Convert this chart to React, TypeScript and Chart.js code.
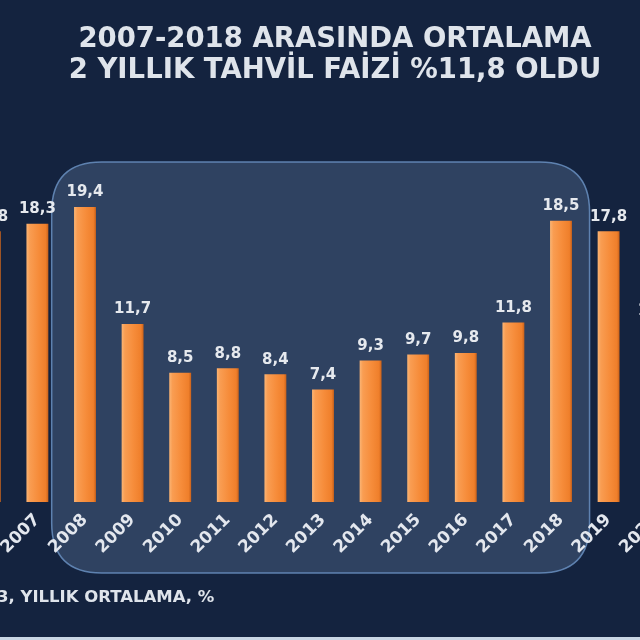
import React, { useEffect, useRef } from "react";
import { Chart, registerables } from "chart.js";

Chart.register(...registerables);

const years = ["2006", "2007", "2008", "2009", "2010", "2011", "2012", "2013", "2014", "2015", "2016", "2017", "2018", "2019", "2020"];
const rates = [17.8, 18.3, 19.4, 11.7, 8.5, 8.8, 8.4, 7.4, 9.3, 9.7, 9.8, 11.8, 18.5, 17.8, 11.6];
const titleLines = ["2007-2018 ARASINDA ORTALAMA", "2 YILLIK TAHVİL FAİZİ %11,8 OLDU"];
const footerText = "3, YILLIK ORTALAMA, %";
const highlightFrom = "2008";
const highlightTo = "2018";

const CANVAS_W = 834;
const CANVAS_H = 640;
const OFFSET_X = -94;
const FONT = "'DejaVu Sans', Verdana, sans-serif";

const fmt = (v: number) => v.toFixed(1).replace(".", ",");

function roundRect(ctx: CanvasRenderingContext2D, x: number, y: number, w: number, h: number, r: number) {
  ctx.beginPath();
  ctx.moveTo(x + r, y);
  ctx.lineTo(x + w - r, y);
  ctx.quadraticCurveTo(x + w, y, x + w, y + r);
  ctx.lineTo(x + w, y + h - r);
  ctx.quadraticCurveTo(x + w, y + h, x + w - r, y + h);
  ctx.lineTo(x + r, y + h);
  ctx.quadraticCurveTo(x, y + h, x, y + h - r);
  ctx.lineTo(x, y + r);
  ctx.quadraticCurveTo(x, y, x + r, y);
  ctx.closePath();
}

const highlightPlugin = {
  id: "highlightBox",
  beforeDraw(chart: any) {
    const ctx = chart.ctx as CanvasRenderingContext2D;
    const xs = chart.scales.x;
    const step = xs.getPixelForValue(1) - xs.getPixelForValue(0);
    const x0 = xs.getPixelForValue(years.indexOf(highlightFrom)) - 0.7 * step;
    const x1 = xs.getPixelForValue(years.indexOf(highlightTo)) + 0.6 * step;
    const y0 = 162;
    const y1 = 573;
    ctx.save();
    roundRect(ctx, x0, y0, x1 - x0, y1 - y0, 50);
    ctx.fillStyle = "rgba(80, 104, 140, 0.45)";
    ctx.fill();
    ctx.lineWidth = 1.5;
    ctx.strokeStyle = "rgba(110, 150, 200, 0.8)";
    ctx.stroke();
    ctx.restore();
  },
};

const valueLabelPlugin = {
  id: "valueLabels",
  afterDatasetsDraw(chart: any) {
    const ctx = chart.ctx as CanvasRenderingContext2D;
    const meta = chart.getDatasetMeta(0);
    ctx.save();
    ctx.font = `bold 15px ${FONT}`;
    ctx.fillStyle = "#e6e9ee";
    ctx.textAlign = "center";
    ctx.textBaseline = "bottom";
    meta.data.forEach((bar: any, i: number) => {
      ctx.fillText(fmt(rates[i]), bar.x, bar.y - 7);
    });
    ctx.restore();
  },
};

export default function App() {
  const ref = useRef<HTMLCanvasElement>(null);

  useEffect(() => {
    if (!ref.current) return;
    const chart = new Chart(ref.current, {
      type: "bar",
      data: {
        labels: years,
        datasets: [
          {
            data: rates,
            barPercentage: 0.46,
            categoryPercentage: 1,
            backgroundColor: (c: any) => {
              const ch = c.chart;
              const xs = ch.scales?.x;
              if (!xs || c.dataIndex === undefined) return "#f58a38";
              const x = xs.getPixelForValue(c.dataIndex);
              if (!Number.isFinite(x)) return "#f58a38";
              const g = ch.ctx.createLinearGradient(x - 11, 0, x + 11, 0);
              g.addColorStop(0, "#fbb575");
              g.addColorStop(0.15, "#f99d52");
              g.addColorStop(0.55, "#f68c3a");
              g.addColorStop(0.88, "#ef7f2b");
              g.addColorStop(1, "#c9611a");
              return g;
            },
            borderWidth: 0,
          },
        ],
      },
      options: {
        responsive: false,
        animation: false,
        layout: { padding: { left: 60, right: 60, top: 137, bottom: 0 } },
        plugins: {
          legend: { display: false },
          tooltip: { enabled: false },
          title: { display: false },
        },
        scales: {
          x: {
            grid: { display: false, drawTicks: false },
            border: { display: false },
            ticks: {
              color: "#e3e7ee",
              font: { family: FONT, size: 17, weight: "bold" },
              maxRotation: 45,
              minRotation: 45,
              autoSkip: false,
              padding: 8,
            },
            afterFit: (s: any) => {
              s.height = 138;
            },
          },
          y: { display: false, min: 0, max: 24 },
        },
      },
      plugins: [highlightPlugin, valueLabelPlugin],
    } as any);
    return () => chart.destroy();
  }, []);

  return (
    <div
      style={{
        position: "fixed",
        left: 0,
        top: 0,
        width: 640,
        height: 640,
        overflow: "hidden",
        background: "#14233f",
        fontFamily: FONT,
      }}
    >
      <canvas
        ref={ref}
        width={CANVAS_W}
        height={CANVAS_H}
        style={{ position: "absolute", left: OFFSET_X, top: 0, width: CANVAS_W, height: CANVAS_H }}
      />
      <div
        style={{
          position: "absolute",
          left: 0,
          top: 22,
          width: 670,
          textAlign: "center",
          color: "#dfe4eb",
          fontWeight: "bold",
          fontSize: 27.5,
          lineHeight: "31px",
          whiteSpace: "nowrap",
        }}
      >
        {titleLines.map((t) => (
          <div key={t}>{t}</div>
        ))}
      </div>
      <div
        style={{
          position: "absolute",
          left: -3,
          top: 587,
          color: "#dfe4eb",
          fontWeight: "bold",
          fontSize: 16.5,
          whiteSpace: "nowrap",
        }}
      >
        {footerText}
      </div>
      <div
        style={{
          position: "absolute",
          left: 0,
          top: 637,
          width: 640,
          height: 3,
          background: "#c9d6e4",
        }}
      />
    </div>
  );
}
